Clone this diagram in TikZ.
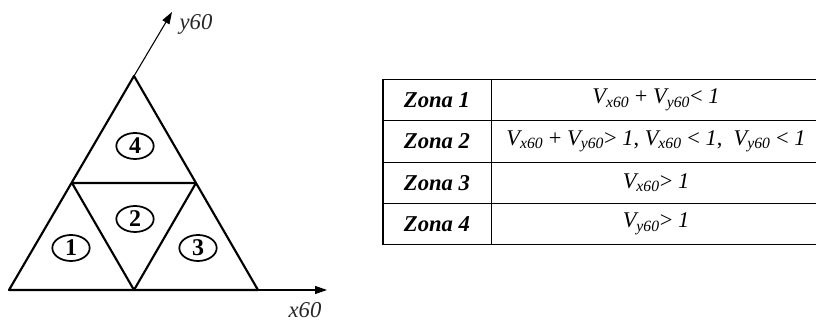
\documentclass[tikz,border=0pt]{standalone}
\usepackage{fontspec}
\setmainfont{Liberation Serif}
\usetikzlibrary{arrows.meta, positioning, shapes.geometric}
\newcommand{\Vx}{\textit{V\textsubscript{x60}}}
\newcommand{\Vy}{\textit{V\textsubscript{y60}}}
\tikzset{
  axisline/.style={-{Triangle[length=9pt,width=6pt]}, line width=0.8pt},
  trizone/.style={line width=1.6pt, line join=round},
  zonetag/.style={ellipse, draw, line width=1.3pt, minimum width=28pt,
                  minimum height=19.5pt, inner sep=0pt,
                  font=\fontsize{18}{20}\selectfont\bfseries},
  axislabel/.style={font=\fontsize{17}{19}\selectfont\itshape, text=black!85},
  zcell/.style={rectangle, draw, line width=0.6pt, minimum width=81pt,
                minimum height=31pt, inner sep=0pt, outer sep=0pt,
                font=\fontsize{17}{19}\selectfont\bfseries\itshape},
  fcell/.style={rectangle, draw, line width=0.6pt, minimum width=247.5pt,
                minimum height=31pt, inner sep=0pt, outer sep=0pt,
                font=\fontsize{16.8}{19}\selectfont},
}
\begin{document}
\begin{tikzpicture}[x=0.75pt, y=0.75pt, node distance=0pt]
    \useasboundingbox (0,0) rectangle (816,323);
    % triangle corners
    \coordinate (A) at (9,33);
    \coordinate (B) at (134,33);
    \coordinate (C) at (258,33);
    \coordinate (D) at (72,140);
    \coordinate (E) at (196,140);
    \coordinate (F) at (134,247);
    \coordinate (xend) at (327,33);
    \coordinate (yend) at (172,311);
    % axes
    \draw[axisline] (A) -- (xend);
    \draw[axisline] (F) -- (yend);
    \node[axislabel] (ylab) at (196,299) {y60};
    \node[axislabel] (xlab) at (305,13) {x60};
    % zones
    \draw[trizone] (A) -- (F) -- (C) -- cycle;
    \draw[trizone] (D) -- (E) -- (B) -- cycle;
    \node[zonetag] (t1) at (71,75) {1};
    \node[zonetag] (t2) at (135,104) {2};
    \node[zonetag] (t3) at (198,75) {3};
    \node[zonetag] (t4) at (135,177) {4};
    % table
    \node[zcell] (z1) at (437,223) {Zona 1};
    \node[zcell, below=of z1] (z2) {Zona 2};
    \node[zcell, below=of z2] (z3) {Zona 3};
    \node[zcell, below=of z3] (z4) {Zona 4};
    \node[fcell, right=of z1] (c1) {\Vx{} + \Vy{}< \textit{1}};
    \node[fcell, right=of z2] (c2)
      {\Vx{} + \Vy{}> \textit{1}, \Vx{} < \textit{1},\ \ \Vy{} < \textit{1}};
    \node[fcell, right=of z3] (c3) {\Vx{}> \textit{1}};
    \node[fcell, right=of z4] (c4) {\Vy{}> \textit{1}};
    \draw[line width=1.5pt] (z1.north west) -- (z4.south west);
\end{tikzpicture}
\end{document}
